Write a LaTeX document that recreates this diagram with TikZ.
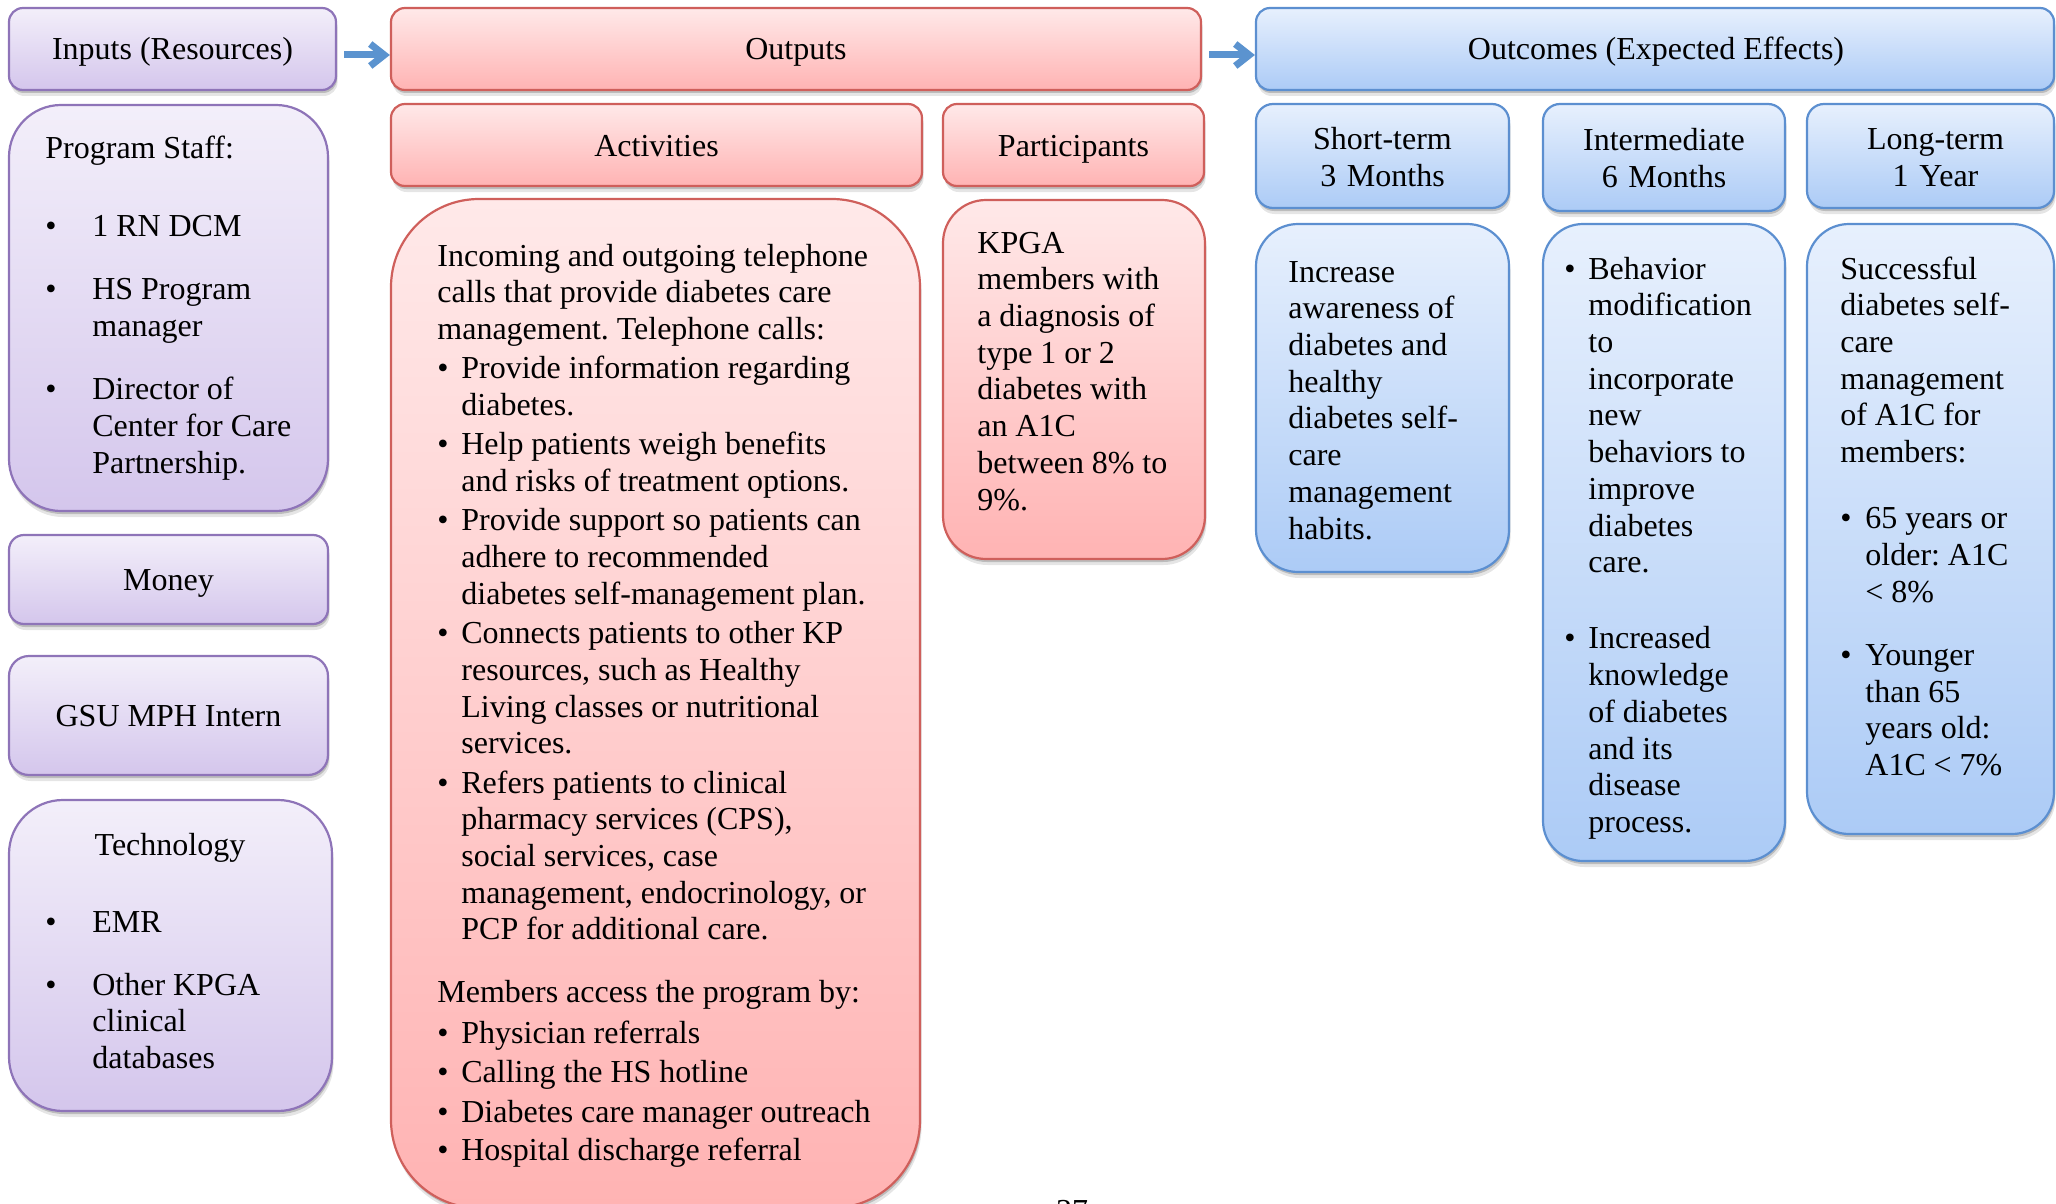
\documentclass[tikz,border=0pt]{standalone}
\usepackage{fontspec}
\setmainfont{Liberation Serif}
\usetikzlibrary{fit,shadows,arrows.meta}
\definecolor{pTop}{HTML}{F3EFFA}
\definecolor{pBot}{HTML}{D4C6EC}
\definecolor{pLine}{HTML}{8E74B8}
\definecolor{rTop}{HTML}{FFE9E9}
\definecolor{rBot}{HTML}{FFB3B3}
\definecolor{rLine}{HTML}{CF5F5B}
\definecolor{bTop}{HTML}{E7F0FD}
\definecolor{bBot}{HTML}{ACCBF6}
\definecolor{bLine}{HTML}{5C8FD0}
\definecolor{aCol}{HTML}{5B93CF}
\newcommand\myfs{\fontsize{16pt}{18.36pt}\selectfont\frenchspacing}
\newcommand\tightsp{\spaceskip=3.95pt\relax\xspaceskip=3.95pt\relax}
\newcommand\bl{\makebox[12pt][l]{•}}
\newcommand\ind{\hspace*{12pt}}
\newcommand\sbl{\makebox[23.5pt][l]{•}}
\newcommand\sind{\hspace*{23.5pt}}
\tikzset{
  boxbase/.style={inner sep=0pt, line width=1.1pt,
    drop shadow={shadow xshift=0.5pt, shadow yshift=-1.5pt, opacity=0.18, fill=black},
    drop shadow={shadow xshift=0.8pt, shadow yshift=-3pt, opacity=0.10, fill=black}},
  pbox/.style={boxbase, draw=pLine, top color=pTop, bottom color=pBot},
  rbox/.style={boxbase, draw=rLine, top color=rTop, bottom color=rBot},
  bbox/.style={boxbase, draw=bLine, top color=bTop, bottom color=bBot},
  hdr/.style={inner sep=0pt, font=\myfs, text height=11.5pt, text depth=0.5pt, anchor=center},
  hdrtwo/.style={inner sep=0pt, font=\myfs, text width=120pt, align=center, anchor=base},
  bodytxt/.style={anchor=base west, inner sep=0pt, text width=300pt, align=left, font=\myfs,
    execute at begin node=\tightsp},
  flowarrow/.style={draw=aCol, line width=3.5pt, -{Straight Barb[length=7pt,width=11pt]}},
}
\begin{document}
\begin{tikzpicture}[x=0.5pt,y=-0.5pt]
\useasboundingbox (0,0) rectangle (2056,1204);
% top row
\node[pbox, rounded corners=7pt, fit={(9,8)(336,90)}] (inputs) {};
\node[hdr] (inputslbl) at (inputs.center) {Inputs (Resources)};
\node[rbox, rounded corners=7pt, fit={(391,8)(1201,90)}] (outputs) {};
\node[hdr] (outputslbl) at (outputs.center) {Outputs};
\node[bbox, rounded corners=7pt, fit={(1256,8)(2054,90)}] (outcomes) {};
\node[hdr] (outcomeslbl) at ([xshift=0.5pt]outcomes.center) {Outcomes (Expected Effects)};
\draw[flowarrow] ([xshift=3.5pt,yshift=-3pt]inputs.east) -- ([yshift=-3pt]outputs.west);
\draw[flowarrow] ([xshift=3.5pt,yshift=-3pt]outputs.east) -- ([yshift=-3pt]outcomes.west);
% inputs column
\node[pbox, rounded corners=26pt, fit={(9,105)(328,511)}] (staff) {};
\node[bodytxt] (stafftxt) at (45,159) {Program Staff:\\[20.15pt]
\sbl 1 RN DCM\\[13.5pt]
\sbl HS Program\\
\sind manager\\[13.3pt]
\sbl Director of\\
\sind Center for Care\\
\sind Partnership.};
\node[pbox, rounded corners=7.5pt, fit={(9,535)(328,624)}] (money) {};
\node[hdr] (moneylbl) at (money.center) {Money};
\node[pbox, rounded corners=10pt, fit={(9,656)(328,775)}] (gsu) {};
\node[hdr] (gsulbl) at (gsu.center) {GSU MPH Intern};
\node[pbox, rounded corners=27pt, fit={(9,800)(332,1111)}] (tech) {};
\node[anchor=base, inner sep=0pt, font=\myfs] (techtitle) at (170,855) {Technology};
\node[bodytxt] (techtxt) at (45,932) {\sbl EMR\\[13.15pt]
\sbl Other KPGA\\
\sind clinical\\
\sind databases};
% outputs
\node[rbox, rounded corners=7pt, fit={(391,104)(922,186)}] (acthead) {};
\node[hdr] (actheadlbl) at (acthead.center) {Activities};
\node[rbox, rounded corners=7pt, fit={(943,104)(1204,186)}] (parthead) {};
\node[hdr] (partheadlbl) at (parthead.center) {Participants};
\node[rbox, rounded corners=44pt, fit={(391,199)(920,1208)}] (actbody) {};
\node[bodytxt] (acttxt) at (437,266) {Incoming and outgoing telephone\\
calls that provide diabetes care\\
management. Telephone calls:\\[1.3pt]
\bl Provide information regarding\\
\ind diabetes.\\[1.3pt]
\bl Help patients weigh benefits\\
\ind and risks of treatment options.\\[1.3pt]
\bl Provide support so patients can\\
\ind adhere to recommended\\
\ind diabetes self-management plan.\\[1.3pt]
\bl Connects patients to other KP\\
\ind resources, such as Healthy\\
\ind Living classes or nutritional\\
\ind services.\\[1.3pt]
\bl Refers patients to clinical\\
\ind pharmacy services (CPS),\\
\ind social services, case\\
\ind management, endocrinology, or\\
\ind PCP for additional care.\\[13.1pt]
Members access the program by:\\[2pt]
\bl Physician referrals\\[1.3pt]
\bl Calling the HS hotline\\[1.3pt]
\bl Diabetes care manager outreach\\[1pt]
\bl Hospital discharge referral};
\node[rbox, rounded corners=21.5pt, fit={(943,200)(1205,559)}] (partbody) {};
\node[bodytxt] (parttxt) at (977,253) {KPGA\\
members with\\
a diagnosis of\\
type 1 or 2\\
diabetes with\\
an A1C\\
between 8\% to\\
9\%.};
% outcomes
\node[bbox, rounded corners=8.5pt, fit={(1256,104)(1509,208)}] (shorthead) {};
\node[hdrtwo] (shortheadlbl) at ([yshift=3.3pt]shorthead.center) {Short-term\\3 Months};
\node[bbox, rounded corners=8.5pt, fit={(1543,104)(1785,211)}] (midhead) {};
\node[hdrtwo] (midheadlbl) at ([yshift=3.3pt]midhead.center) {Intermediate\\6 Months};
\node[bbox, rounded corners=8.5pt, fit={(1807,104)(2054,208)}] (longhead) {};
\node[hdrtwo] (longheadlbl) at ([xshift=2.5pt,yshift=3.3pt]longhead.center) {Long-term\\1 Year};
\node[bbox, rounded corners=21pt, fit={(1256,224)(1509,572)}] (shortbody) {};
\node[bodytxt] (shorttxt) at (1288,282) {Increase\\
awareness of\\
diabetes and\\
healthy\\
diabetes self-\\
care\\
management\\
habits.};
\node[bbox, rounded corners=20pt, fit={(1543,224)(1785,861)}] (midbody) {};
\node[bodytxt] (midtxt) at (1564,279) {\bl Behavior\\
\ind modification\\
\ind to\\
\ind incorporate\\
\ind new\\
\ind behaviors to\\
\ind improve\\
\ind diabetes\\
\ind care.\\[19.7pt]
\bl Increased\\
\ind knowledge\\
\ind of diabetes\\
\ind and its\\
\ind disease\\
\ind process.};
\node[bbox, rounded corners=21pt, fit={(1807,224)(2054,834)}] (longbody) {};
\node[bodytxt] (longtxt) at (1840,279) {Successful\\
diabetes self-\\
care\\
management\\
of A1C for\\
members:\\[14.8pt]
\makebox[12.5pt][l]{•}65 years or\\
\hspace*{12.5pt}older: A1C\\
\hspace*{12.5pt}< 8\%\\[13.1pt]
\makebox[12.5pt][l]{•}Younger\\
\hspace*{12.5pt}than 65\\
\hspace*{12.5pt}years old:\\
\hspace*{12.5pt}A1C < 7\%};
% page number
\node[anchor=base, inner sep=0pt, font=\myfs] (pagenum) at (1072,1221) {37};
\end{tikzpicture}
\end{document}
